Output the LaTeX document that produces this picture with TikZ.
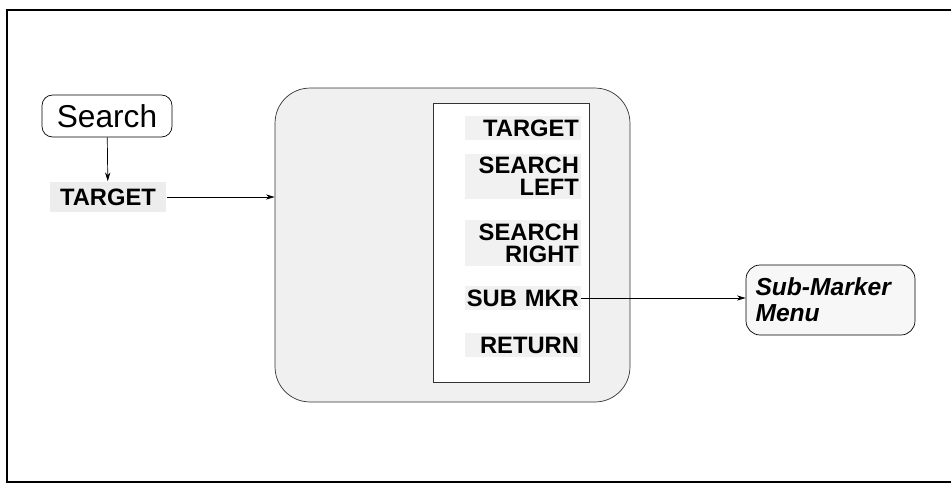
\documentclass[tikz,border=0pt]{standalone}
\usepackage{fontspec}
\setmainfont{Liberation Sans}
\usetikzlibrary{arrows.meta, positioning}

\begin{document}
\begin{tikzpicture}[x=0.02cm, y=-0.02cm,
      hard/.style={rectangle, draw=black, fill=white, rounded corners=6pt,
                   minimum width=2.6cm, minimum height=0.84cm,
                   font=\fontsize{18}{19}\selectfont, inner sep=0pt},
      panel/.style={rectangle, draw=black!80, fill=gray!12,
                    rounded corners=0.7cm, minimum width=7.1cm,
                    minimum height=6.28cm, inner sep=0pt},
      menu/.style={rectangle, draw=black!80, fill=white,
                   minimum width=3.12cm, minimum height=5.58cm, inner sep=0pt},
      key/.style={fill=gray!11, anchor=east, align=right, text width=2.25cm,
                  inner xsep=1pt, inner ysep=2pt,
                  font=\fontsize{13.5}{12.5}\selectfont\bfseries},
      sub/.style={rectangle, draw=black, fill=gray!6, rounded corners=8pt,
                  minimum width=3.38cm, minimum height=1.4cm,
                  text width=3.0cm, align=left,
                  font=\fontsize{14}{15}\selectfont\bfseries\itshape},
      arr/.style={-{Stealth[length=5pt, width=3pt]}, thin},
    ]
      \useasboundingbox (0,0) rectangle (951,488);
      % frame
      \draw[line width=0.9pt] (951,10) -- (7,10) -- (7,482) -- (951,482);

      \node[hard] (srch) at (107,116) {Search};
      \node[fill=gray!14, inner xsep=6pt, inner ysep=4pt,
            font=\fontsize{13.5}{14}\selectfont\bfseries] (tgt) at (108,197) {TARGET};

      \node[panel] (pnl) at (452.5,245) {};
      \node[menu] (mn) at (511,242.5) {};

      \node[key] (k1) at (581,128) {TARGET};
      \node[key] (k2) at (581,176.5) {SEARCH\\LEFT};
      \node[key] (k3) at (581,243) {SEARCH\\RIGHT};
      \node[key] (k4) at (581,298) {SUB MKR};
      \node[key] (k5) at (581,345) {RETURN};

      \node[sub] (smm) at (830.5,300) {Sub-Marker\\Menu};

      \draw[arr] (srch) -- (tgt);
      \draw[arr] (tgt.east) -- (tgt.east -| pnl.west);
      \draw[arr] (k4.east) -- (k4.east -| smm.west);
\end{tikzpicture}
\end{document}
